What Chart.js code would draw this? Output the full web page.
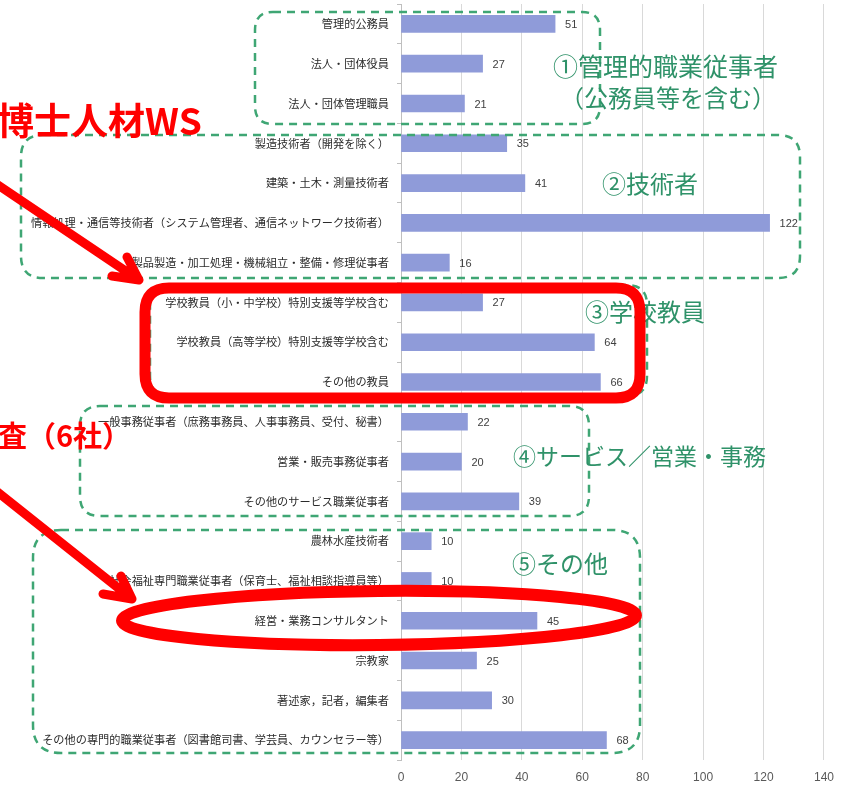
<!DOCTYPE html>
<html>
<head>
<meta charset="utf-8">
<script src="https://cdn.jsdelivr.net/npm/chart.js@4/dist/chart.umd.min.js"></script>
<style>
  html, body { margin: 0; padding: 0; background: #fff; }
  #wrap { width: 844px; height: 789px; position: relative; }
</style>
</head>
<body>
<div id="wrap"><canvas id="myChart" width="844" height="789"></canvas></div>
<script>
// categories, top to bottom
const categories = [
  '管理的公務員',
  '法人・団体役員',
  '法人・団体管理職員',
  '製造技術者（開発を除く）',
  '建築・土木・測量技術者',
  '情報処理・通信等技術者（システム管理者、通信ネットワーク技術者）',
  '製品製造・加工処理・機械組立・整備・修理従事者',
  '学校教員（小・中学校）特別支援等学校含む',
  '学校教員（高等学校）特別支援等学校含む',
  'その他の教員',
  '一般事務従事者（庶務事務員、人事事務員、受付、秘書）',
  '営業・販売事務従事者',
  'その他のサービス職業従事者',
  '農林水産技術者',
  '社会福祉専門職業従事者（保育士、福祉相談指導員等）',
  '経営・業務コンサルタント',
  '宗教家',
  '著述家，記者，編集者',
  'その他の専門的職業従事者（図書館司書、学芸員、カウンセラー等）'
];
const counts = [51, 27, 21, 35, 41, 122, 16, 27, 64, 66, 22, 20, 39, 10, 10, 45, 25, 30, 68];
const axisMax = 140;
const axisStep = 20;

const GREEN_LINE = '#3fa674';
const GREEN_TEXT = '#2f9269';
const RED = '#ff0000';
const JP = '"Noto Sans CJK JP", sans-serif';

function rrect(ctx, x, y, w, h, r) {
  ctx.beginPath();
  ctx.moveTo(x + r, y);
  ctx.lineTo(x + w - r, y);
  ctx.quadraticCurveTo(x + w, y, x + w, y + r);
  ctx.lineTo(x + w, y + h - r);
  ctx.quadraticCurveTo(x + w, y + h, x + w - r, y + h);
  ctx.lineTo(x + r, y + h);
  ctx.quadraticCurveTo(x, y + h, x, y + h - r);
  ctx.lineTo(x, y + r);
  ctx.quadraticCurveTo(x, y, x + r, y);
  ctx.closePath();
}

function arrow(ctx, x1, y1, x2, y2, h1, h2) {
  ctx.beginPath();
  ctx.moveTo(x1, y1);
  ctx.lineTo(x2, y2);
  ctx.moveTo(h1[0], h1[1]);
  ctx.lineTo(x2, y2);
  ctx.lineTo(h2[0], h2[1]);
  ctx.stroke();
}

// value labels + hand-drawn style callouts
const overlay = {
  id: 'overlay',
  afterDatasetsDraw(chart) {
    const ctx = chart.ctx;
    const meta = chart.getDatasetMeta(0);
    ctx.save();
    ctx.font = '11px "Liberation Sans", sans-serif';
    ctx.fillStyle = '#404040';
    ctx.textBaseline = 'middle';
    ctx.textAlign = 'left';
    meta.data.forEach(function (bar, i) {
      ctx.fillText(String(counts[i]), bar.x + 10, bar.y + 1);
    });

    // green dashed group boxes
    ctx.strokeStyle = GREEN_LINE;
    ctx.lineWidth = 2.5;
    ctx.setLineDash([8, 6]);
    rrect(ctx, 255, 12, 345, 112, 18); ctx.stroke();
    rrect(ctx, 21, 135, 779, 143, 22); ctx.stroke();
    rrect(ctx, 150, 285, 497, 111, 20); ctx.stroke();
    rrect(ctx, 80, 406, 509, 110, 20); ctx.stroke();
    rrect(ctx, 33, 530, 607, 223, 28); ctx.stroke();
    ctx.setLineDash([]);

    // green group titles
    ctx.fillStyle = GREEN_TEXT;
    ctx.textAlign = 'left';
    ctx.font = '25px ' + JP;
    ctx.fillText('①管理的職業従事者', 553, 66);
    ctx.font = '24px ' + JP;
    ctx.fillText('（公務員等を含む）', 560, 98);
    ctx.fillText('②技術者', 602, 184);
    ctx.fillText('③学校教員', 585, 312);
    ctx.font = '23px ' + JP;
    ctx.fillText('④サービス／営業・事務', 513, 456);
    ctx.font = '24px ' + JP;
    ctx.fillText('⑤その他', 512, 564);

    // red emphasis
    ctx.strokeStyle = RED;
    ctx.lineCap = 'round';
    ctx.lineJoin = 'round';
    ctx.lineWidth = 11;
    rrect(ctx, 145, 288, 495, 110, 24); ctx.stroke();

    ctx.lineWidth = 12;
    ctx.beginPath();
    ctx.ellipse(379, 618, 257, 27, -0.01, 0, Math.PI * 2);
    ctx.stroke();

    ctx.lineWidth = 9;
    arrow(ctx, -5, 183, 139, 280, [127, 257], [112, 276]);
    arrow(ctx, -5, 490, 132, 599, [121, 576], [103, 594]);

    ctx.fillStyle = RED;
    ctx.textBaseline = 'middle';
    ctx.font = 'bold 37px ' + JP;
    ctx.fillText('博士人材WS', -3, 121);
    ctx.font = 'bold 29px ' + JP;
    ctx.fillText('査（6社）', -2, 436);
    ctx.restore();
  }
};

const ctx = document.getElementById('myChart').getContext('2d');
const myChart = new Chart(ctx, {
  type: 'bar',
  data: {
    labels: categories,
    datasets: [{
      data: counts,
      backgroundColor: '#8f9bd9',
      borderWidth: 0,
      barThickness: 17
    }]
  },
  options: {
    indexAxis: 'y',
    responsive: false,
    animation: false,
    layout: { padding: { left: 0, right: 20, top: 4, bottom: 0 } },
    plugins: {
      legend: { display: false },
      tooltip: { enabled: false }
    },
    scales: {
      x: {
        min: 0,
        max: axisMax,
        ticks: {
          stepSize: axisStep,
          color: '#595959',
          font: { size: 12, family: '"Liberation Sans", sans-serif' },
          padding: 10
        },
        grid: { color: '#d9d9d9', drawTicks: false },
        border: { display: false },
        afterFit(scale) { scale.height = 29; }
      },
      y: {
        ticks: {
          autoSkip: false,
          color: '#2b2b2b',
          font: { size: 11.2, family: JP },
          padding: 8
        },
        grid: {
          offset: true,
          drawOnChartArea: false,
          drawTicks: true,
          tickLength: 4,
          color: '#bfbfbf'
        },
        border: { display: true, color: '#bfbfbf' },
        afterFit(scale) {
          scale.width = 401;
          scale.paddingTop = 0;
          scale.paddingBottom = 0;
        }
      }
    }
  },
  plugins: [overlay]
});
</script>
</body>
</html>
